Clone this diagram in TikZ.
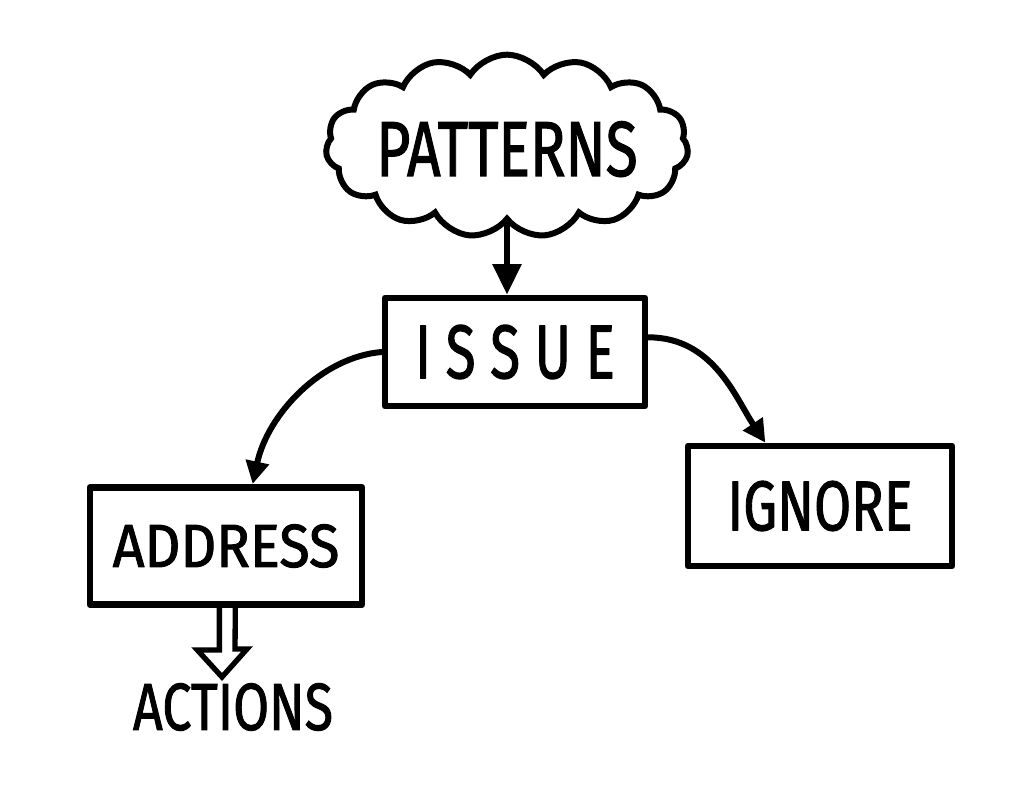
\documentclass[tikz,border=0pt]{standalone}
\usepackage{fontspec}
\setmainfont{Fira Sans}
\newfontfamily\hand{Fira Sans}[FakeBold=1.6]
\usetikzlibrary{shapes.symbols,arrows.meta,calc}
\newcommand{\hw}[3]{\resizebox{#1}{#2}{\hand #3}}
\tikzset{
  box/.style={draw, line width=5pt, line join=round, inner sep=0pt},
  conn/.style={line width=4.5pt, line cap=round, -{Triangle[length=17pt,width=17pt]}},
}
\begin{document}
\begin{tikzpicture}[x=0.75pt,y=-0.75pt]
\useasboundingbox[fill=white] (0,0) rectangle (1024,795);
\node[cloud, cloud puffs=15, cloud puff arc=115, aspect=2.2, draw, line width=4.5pt,
      minimum width=272pt, minimum height=137pt, inner sep=0pt] (cloud) at (507,146)
      {\smash{\makebox[0pt]{\raisebox{-22.5pt}{\hw{196pt}{41pt}{PATTERNS}}}}};
\node[box, minimum width=195pt, minimum height=81pt] (issue) at (515,352) {\hw{150pt}{40pt}{I S S U E}};
\node[box, minimum width=204pt, minimum height=88pt] (address) at (226,546) {\hw{170pt}{32pt}{ADDRESS}};
\node[box, minimum width=198pt, minimum height=90pt] (ignore) at (820,506) {\hw{139pt}{37pt}{IGNORE}};
\node[inner sep=0pt] (actions) at (233,707) {\hw{150pt}{35pt}{ACTIONS}};
\draw[conn, -{Triangle[length=23pt,width=21pt]}] (cloud.south) -- (cloud.south |- issue.north);
\draw[conn] (issue.west) .. controls +(-60,5) and +(15,-70) .. ([xshift=20pt]address.north);
\draw[conn] ([yshift=11pt]issue.east) .. controls +(65,0) and +(-30,-45) .. ([xshift=-41pt]ignore.north);
\draw[line width=4pt, line join=miter] ([xshift=-5pt]address.south) -- ++(0,42) -- ++(-22,0)
  -- ($(actions.north)+(-11,-6)$) -- ++(25,-28) -- ++(-12,0) -- ([xshift=7pt]address.south);
\end{tikzpicture}
\end{document}
